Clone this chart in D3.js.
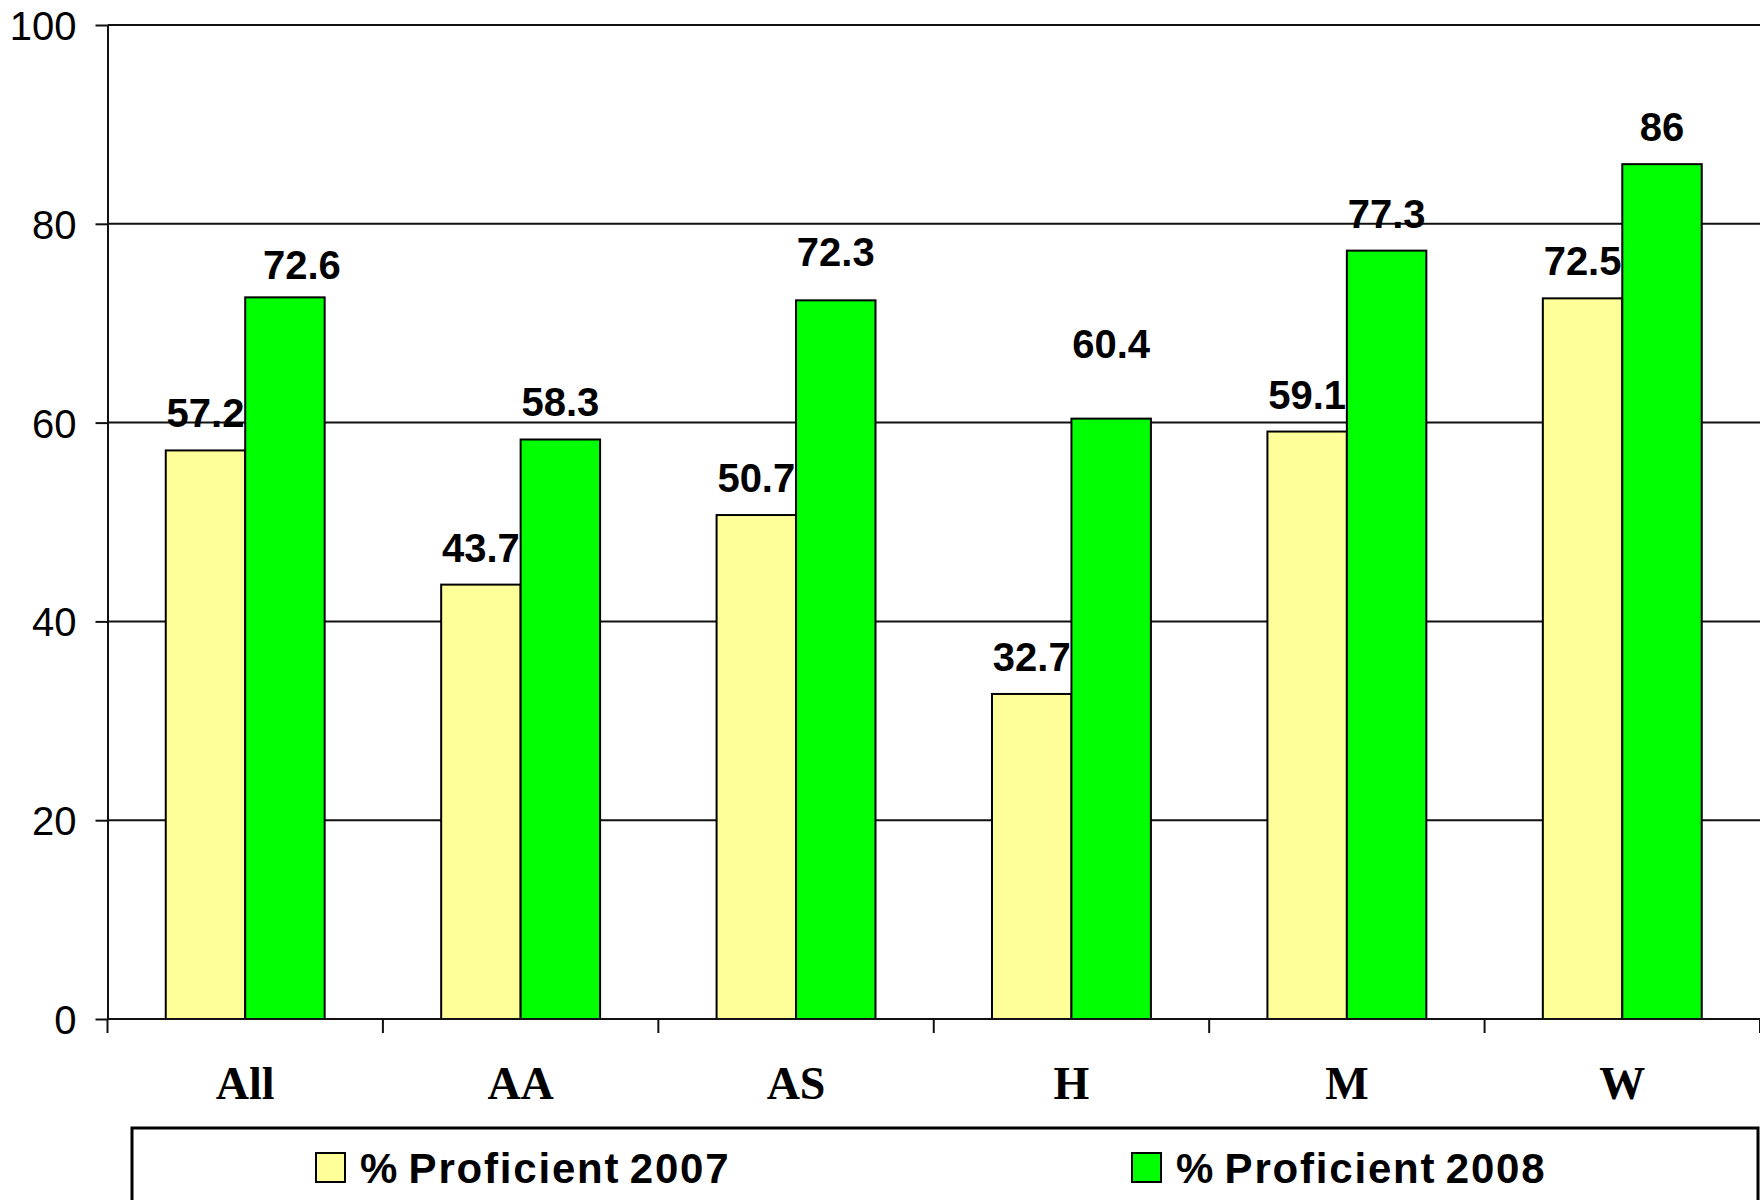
<!DOCTYPE html>
<html>
<head>
<meta charset="utf-8">
<script src="https://cdn.jsdelivr.net/npm/d3@7"></script>
<style>
  body { margin: 0; background: #fff; }
  svg { display: block; }
</style>
</head>
<body>
<svg id="chart" width="1760" height="1200"></svg>
<script>
// data
const categories = ['All', 'AA', 'AS', 'H', 'M', 'W'];
const proficient2007 = [57.2, 43.7, 50.7, 32.7, 59.1, 72.5];
const proficient2008 = [72.6, 58.3, 72.3, 60.4, 77.3, 86];
const seriesNames = ['% Proficient 2007', '% Proficient 2008'];
const yTicks = [0, 20, 40, 60, 80, 100];

// hand-moved labels in the original (layout only)
const labelShift2008 = { All: [17, 5], AS: [0, -11], H: [0, -38] };

const colors = ['#ffff99', '#00ff00'];
const W = 1760, H = 1200;
const plotLeft = 107.5, plotTop = 25, plotBottom = 1019;

const svg = d3.select('#chart');

const x = d3.scaleBand(categories, [plotLeft, W]).paddingInner(0.423).paddingOuter(0.2115);
const xs = d3.scaleBand([0, 1], [0, x.bandwidth()]);
const y = d3.scaleLinear([0, 100], [plotBottom, plotTop]);

// gridlines
svg.append('g').selectAll('line')
  .data(yTicks.filter(d => d > 0))
  .join('line')
  .attr('x1', plotLeft).attr('x2', W)
  .attr('y1', d => y(d)).attr('y2', d => y(d))
  .attr('stroke', '#111').attr('stroke-width', 2);

// y axis
const yAxis = d3.axisLeft(y).tickValues(yTicks).tickSize(12).tickPadding(19).tickSizeOuter(0);
const yg = svg.append('g').attr('transform', `translate(${plotLeft},0)`).call(yAxis);
yg.select('.domain').attr('stroke', '#111').attr('stroke-width', 2);
yg.selectAll('.tick line').attr('stroke', '#111').attr('stroke-width', 2);
yg.selectAll('.tick text')
  .attr('font-family', 'Arial, "Liberation Sans", sans-serif')
  .attr('font-size', 40).attr('fill', '#000').attr('dy', '0.36em');

// bars
const rows = categories.map((c, i) => ({ cat: c, vals: [proficient2007[i], proficient2008[i]] }));
const groups = svg.append('g').selectAll('g')
  .data(rows).join('g')
  .attr('transform', d => `translate(${x(d.cat)},0)`);

groups.selectAll('rect')
  .data(d => d.vals.map((v, k) => ({ v, k })))
  .join('rect')
  .attr('x', d => xs(d.k))
  .attr('width', xs.bandwidth())
  .attr('y', d => y(d.v))
  .attr('height', d => y(0) - y(d.v))
  .attr('fill', d => colors[d.k])
  .attr('stroke', '#000').attr('stroke-width', 2);

// value labels
groups.selectAll('text')
  .data(d => d.vals.map((v, k) => ({ v, k, cat: d.cat })))
  .join('text')
  .attr('x', d => xs(d.k) + xs.bandwidth() / 2 + (d.k === 1 && labelShift2008[d.cat] ? labelShift2008[d.cat][0] : 0))
  .attr('y', d => y(d.v) - 23 + (d.k === 1 && labelShift2008[d.cat] ? labelShift2008[d.cat][1] : 0))
  .attr('text-anchor', 'middle')
  .attr('font-family', 'Arial, "Liberation Sans", sans-serif')
  .attr('font-weight', 'bold').attr('font-size', 40)
  .text(d => d.v);

// x axis line with ticks at category boundaries
const xg = svg.append('g');
xg.append('line')
  .attr('x1', plotLeft).attr('x2', W).attr('y1', y(0)).attr('y2', y(0))
  .attr('stroke', '#111').attr('stroke-width', 2);
xg.selectAll('.xtick')
  .data(d3.range(categories.length + 1))
  .join('line').attr('class', 'xtick')
  .attr('x1', i => plotLeft + i * x.step()).attr('x2', i => plotLeft + i * x.step())
  .attr('y1', y(0)).attr('y2', y(0) + 14)
  .attr('stroke', '#111').attr('stroke-width', 2);
xg.selectAll('.xlabel')
  .data(categories)
  .join('text').attr('class', 'xlabel')
  .attr('x', d => x(d) + x.bandwidth() / 2)
  .attr('y', 1099)
  .attr('text-anchor', 'middle')
  .attr('font-family', '"Times New Roman", "Liberation Serif", serif')
  .attr('font-weight', 'bold').attr('font-size', 46)
  .text(d => d);

// legend
const lg = svg.append('g');
lg.append('rect')
  .attr('x', 132).attr('y', 1128).attr('width', 1626).attr('height', 120)
  .attr('fill', 'none').attr('stroke', '#000').attr('stroke-width', 3);
const legendX = [316, 1132];
const items = lg.selectAll('g').data(seriesNames).join('g')
  .attr('transform', (d, i) => `translate(${legendX[i]},1153)`);
items.append('rect')
  .attr('width', 29).attr('height', 29)
  .attr('fill', (d, i) => colors[i])
  .attr('stroke', '#000').attr('stroke-width', 2);
items.append('text')
  .attr('x', 44).attr('y', 30)
  .attr('font-family', 'Arial, "Liberation Sans", sans-serif')
  .attr('font-weight', 'bold').attr('font-size', 42)
  .attr('letter-spacing', 1.8)
  .attr('word-spacing', -4)
  .text(d => d);
</script>
</body>
</html>
